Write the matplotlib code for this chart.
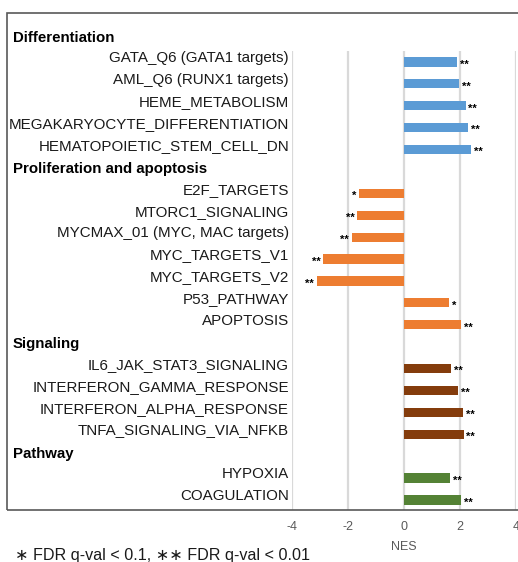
import matplotlib.pyplot as plt
from matplotlib.patches import Rectangle

plt.rcParams['font.family'] = ['Liberation Sans', 'DejaVu Sans']

# GSEA normalized enrichment scores, grouped by theme
group_names = ["Differentiation", "Proliferation and apoptosis", "Signaling", "Pathway"]
group_colors = ["#5B9BD5", "#ED7D31", "#843C0C", "#548235"]

diff_sets = ["GATA_Q6 (GATA1 targets)", "AML_Q6 (RUNX1 targets)", "HEME_METABOLISM",
             "MEGAKARYOCYTE_DIFFERENTIATION", "HEMATOPOIETIC_STEM_CELL_DN"]
diff_nes = [1.90, 1.96, 2.20, 2.29, 2.39]
diff_sig = ["**", "**", "**", "**", "**"]

prolif_sets = ["E2F_TARGETS", "MTORC1_SIGNALING", "MYCMAX_01 (MYC, MAC targets)",
               "MYC_TARGETS_V1", "MYC_TARGETS_V2", "P53_PATHWAY", "APOPTOSIS"]
prolif_nes = [-1.61, -1.67, -1.86, -2.89, -3.12, 1.61, 2.05]
prolif_sig = ["*", "**", "**", "**", "**", "*", "**"]

signal_sets = ["IL6_JAK_STAT3_SIGNALING", "INTERFERON_GAMMA_RESPONSE",
               "INTERFERON_ALPHA_RESPONSE", "TNFA_SIGNALING_VIA_NFKB"]
signal_nes = [1.67, 1.93, 2.11, 2.13]
signal_sig = ["**", "**", "**", "**"]

path_sets = ["HYPOXIA", "COAGULATION"]
path_nes = [1.64, 2.04]
path_sig = ["**", "**"]

x_ticks = [-4, -2, 0, 2, 4]

groups = [
    (diff_sets, diff_nes, diff_sig),
    (prolif_sets, prolif_nes, prolif_sig),
    (signal_sets, signal_nes, signal_sig),
    (path_sets, path_nes, path_sig),
]

fig = plt.figure(figsize=(5.18, 5.62), dpi=100)
ax = fig.add_axes([292 / 518, 52 / 562, 224 / 518, 459 / 562])

# outer border around labels and plot
fig.patches.append(Rectangle((7 / 518, 52 / 562), 1.0, 497 / 562, transform=fig.transFigure,
                             fill=False, edgecolor="#595959", linewidth=1.2, zorder=0))

row = 0
for (sets, nes, sig), gname, color in zip(groups, group_names, group_colors):
    # group header sits in its own row, left-aligned in the label area
    ax.annotate(gname, xy=(13 / 518, row - 0.1), xycoords=("figure fraction", "data"),
                fontsize=10.8, fontweight="bold", ha="left", va="center", annotation_clip=False)
    row += 1
    for name, val, s in zip(sets, nes, sig):
        ax.barh(row, val, height=0.42, color=color, zorder=3)
        ax.annotate(name, xy=(289 / 518, row - 0.17), xycoords=("figure fraction", "data"),
                    fontsize=10.9, ha="right", va="center", color="#1a1a1a",
                    annotation_clip=False)
        if val >= 0:
            ax.annotate(s, xy=(val, row + 0.12), xytext=(2, 0), textcoords="offset points",
                        fontsize=8, fontweight="bold", ha="left", va="center")
        else:
            ax.annotate(s, xy=(val, row + 0.12), xytext=(-2, 0), textcoords="offset points",
                        fontsize=8, fontweight="bold", ha="right", va="center")
        row += 1

ax.set_xlim(-4, 4)
ax.set_ylim(row - 0.54, 0.5)
ax.set_xticks(x_ticks)
ax.set_xticklabels([str(t) for t in x_ticks])
ax.set_yticks([])
ax.tick_params(axis="x", length=0, pad=8, labelsize=9, labelcolor="#595959")
ax.grid(axis="x", color="#d9d9d9", linewidth=1.6, zorder=0)
ax.set_axisbelow(True)
for side in ["top", "right", "left", "bottom"]:
    ax.spines[side].set_visible(False)
ax.set_xlabel("NES", fontsize=9, color="#595959", labelpad=6)

fig.text(15 / 518, 2 / 562, "\u2217 FDR q-val < 0.1, \u2217\u2217 FDR q-val < 0.01",
         fontsize=11.6, ha="left", va="baseline", color="#1a1a1a")

fig.savefig("out.png", dpi=100)
